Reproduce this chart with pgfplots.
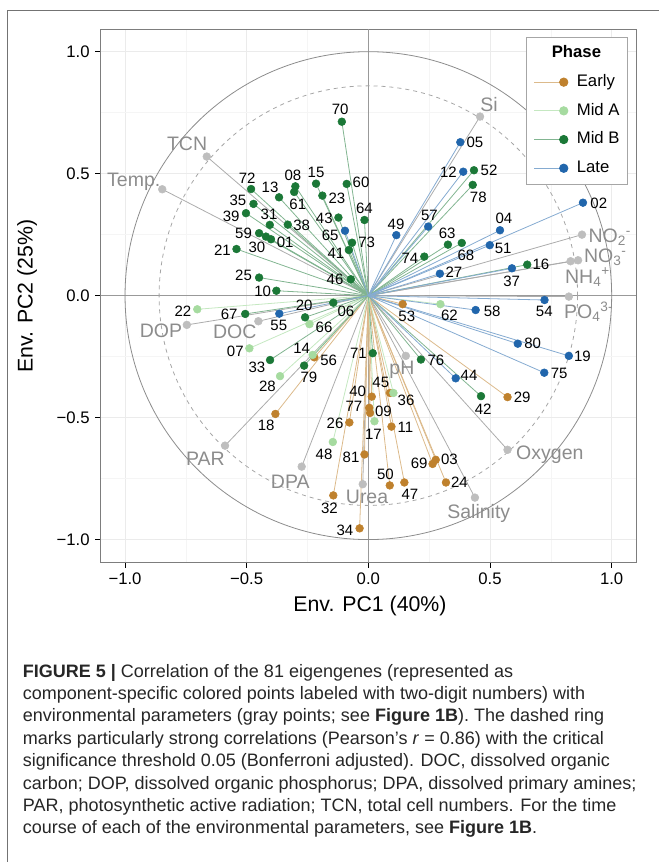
\documentclass[border=0pt]{standalone}
\usepackage{fontspec}
\setmainfont{Liberation Sans}
\usepackage{pgfplots}
\usepackage{pgfplotstable}
\pgfplotsset{compat=1.18}

\definecolor{early}{HTML}{BF812D}
\definecolor{midA}{HTML}{A6DBA0}
\definecolor{midB}{HTML}{1B7837}
\definecolor{late}{HTML}{2166AC}
\definecolor{envpt}{RGB}{190,190,190}
\definecolor{envtxt}{RGB}{140,140,140}
\definecolor{envln}{RGB}{172,172,172}
\definecolor{panelframe}{RGB}{125,125,125}

\newcommand\numfont{\fontsize{15}{18}\selectfont}
\newcommand\envfont{\fontsize{19.5}{22}\selectfont}
\newcommand\tickfont{\fontsize{16.7}{20}\selectfont}
\newcommand\titlefont{\fontsize{21.3}{25}\selectfont}
\newcommand\capfont{\fontsize{18}{22}\selectfont}

\pgfplotstableread{
x y lx ly lab
0.277 -0.673 0.333 -0.673 03
0.007 -0.481 0.062 -0.473 09
0.095 -0.537 0.152 -0.541 11
-0.382 -0.485 -0.420 -0.533 18
0.319 -0.766 0.374 -0.766 24
-0.078 -0.520 -0.137 -0.523 26
0.572 -0.416 0.632 -0.416 29
-0.144 -0.819 -0.160 -0.871 32
-0.036 -0.954 -0.096 -0.963 34
0.014 -0.414 -0.044 -0.391 40
0.089 -0.399 0.051 -0.357 45
0.148 -0.766 0.171 -0.814 47
0.088 -0.778 0.070 -0.731 50
0.141 -0.035 0.158 -0.086 53
-0.222 -0.253 -0.163 -0.264 56
0.264 -0.690 0.209 -0.687 69
0.004 -0.460 -0.059 -0.455 77
-0.016 -0.651 -0.071 -0.664 81
}\tabEarly

\pgfplotstableread{
x y lx ly lab
-0.489 -0.216 -0.547 -0.230 07
-0.229 -0.243 -0.274 -0.216 14
0.025 -0.515 0.021 -0.567 17
-0.703 -0.056 -0.762 -0.063 22
-0.363 -0.330 -0.415 -0.373 28
0.103 -0.399 0.155 -0.430 36
-0.146 -0.600 -0.182 -0.650 48
0.296 -0.035 0.333 -0.079 62
-0.242 -0.117 -0.182 -0.131 66
}\tabMidA

\pgfplotstableread{
x y lx ly lab
-0.400 0.231 -0.342 0.219 01
-0.144 -0.029 -0.092 -0.063 06
-0.300 0.448 -0.310 0.493 08
-0.378 0.020 -0.434 0.016 10
-0.367 0.403 -0.404 0.443 13
-0.215 0.459 -0.215 0.504 15
0.653 0.127 0.709 0.127 16
-0.260 -0.089 -0.264 -0.038 20
-0.542 0.191 -0.600 0.187 21
-0.189 0.410 -0.129 0.398 23
-0.449 0.074 -0.513 0.082 25
-0.421 0.242 -0.458 0.197 30
-0.405 0.290 -0.408 0.332 31
-0.404 -0.264 -0.458 -0.293 33
-0.472 0.376 -0.536 0.392 35
-0.331 0.291 -0.274 0.290 38
-0.503 0.338 -0.564 0.327 39
-0.080 0.187 -0.133 0.174 41
0.463 -0.412 0.472 -0.464 42
-0.123 0.320 -0.181 0.318 43
-0.072 0.067 -0.137 0.067 46
0.434 0.514 0.496 0.515 52
-0.449 0.256 -0.513 0.256 59
-0.089 0.458 -0.030 0.466 60
-0.305 0.425 -0.290 0.375 61
0.327 0.209 0.324 0.256 63
-0.016 0.310 -0.016 0.359 64
-0.506 -0.075 -0.572 -0.078 67
0.384 0.216 0.401 0.167 68
-0.109 0.713 -0.116 0.765 70
0.018 -0.236 -0.041 -0.236 71
-0.482 0.437 -0.498 0.481 72
-0.067 0.217 -0.007 0.217 73
0.230 0.160 0.171 0.153 74
0.216 -0.262 0.278 -0.266 76
0.429 0.454 0.452 0.403 78
-0.264 -0.287 -0.244 -0.334 79
}\tabMidB

\pgfplotstableread{
x y lx ly lab
0.882 0.381 0.947 0.379 02
0.541 0.268 0.557 0.317 04
0.378 0.629 0.438 0.627 05
0.390 0.508 0.329 0.506 12
0.824 -0.247 0.880 -0.247 19
0.294 0.090 0.352 0.094 27
0.590 0.112 0.589 0.060 37
0.359 -0.339 0.414 -0.325 44
0.115 0.248 0.114 0.294 49
0.499 0.207 0.554 0.194 51
0.724 -0.018 0.723 -0.066 54
-0.366 -0.074 -0.368 -0.123 55
0.246 0.283 0.251 0.328 57
0.441 -0.059 0.509 -0.063 58
-0.096 0.266 -0.157 0.246 65
0.723 -0.316 0.784 -0.318 75
0.614 -0.197 0.675 -0.195 80
}\tabLate

\pgfplotstableread{
x y
0.459 0.734
-0.664 0.570
-0.847 0.436
0.878 0.250
0.862 0.145
0.831 0.141
0.824 -0.004
-0.746 -0.120
-0.452 -0.105
-0.589 -0.615
-0.274 -0.701
-0.023 -0.773
0.154 -0.247
0.572 -0.632
0.438 -0.828
}\tabEnv

\pgfplotsset{
  seg/.style={forget plot, line width=0.8pt, quiver={u=\thisrow{x}, v=\thisrow{y}}},
  dots/.style={forget plot, only marks, color=#1, mark=*, mark size=3.9pt, mark options={solid, draw=#1, fill=#1, line width=0.5pt}},
  labs/.style={forget plot, only marks, mark=*, mark size=0pt, mark options={draw=none, fill=none},
    nodes near coords, point meta=explicit symbolic,
    every node near coord/.append style={anchor=center, font=\numfont, text=black, inner sep=0pt}},
}

\begin{document}
\begin{tikzpicture}
\path[use as bounding box] (0pt,0pt) rectangle (659pt,-862pt);
\draw[black!55, line width=0.8pt] (7.7pt,-862pt) -- (7.7pt,-10.3pt) -- (659pt,-10.3pt);
\begin{axis}[
  at={(100.7pt,-562pt)}, anchor=south west,
  scale only axis, width=535.3pt, height=533pt,
  xmin=-1.1, xmax=1.1, ymin=-1.092, ymax=1.093,
  xtick={-1,-0.5,0,0.5,1}, ytick={-1,-0.5,0,0.5,1},
  xticklabels={−1.0,−0.5,0.0,0.5,1.0}, yticklabels={−1.0,−0.5,0.0,0.5,1.0},
  minor xtick={-0.75,-0.25,0.25,0.75}, minor ytick={-0.75,-0.25,0.25,0.75},
  grid=both,
  major grid style={black!8, line width=0.6pt},
  minor grid style={black!4, line width=0.5pt},
  tick align=outside, major tick length=5.5pt, minor tick length=0pt,
  xtick pos=left, ytick pos=left,
  tick style={black, line width=0.8pt},
  axis line style={panelframe, line width=0.9pt},
  ticklabel style={font=\tickfont, text=black},
  yticklabel style={xshift=-2pt},
  xticklabel style={yshift=-1.5pt},
  xlabel={Env. PC1 (40\%)}, ylabel={Env. PC2 (25\%)},
  xlabel style={font=\titlefont, at={(axis description cs:0.503,-0.0826)}, anchor=center},
  ylabel style={font=\titlefont, at={(axis description cs:-0.1377,0.499)}, anchor=center, rotate=0},
  legend style={at={(0.9838,0.9844)}, anchor=north east, draw=black!35, line width=0.8pt, fill=white,
    font=\fontsize{16.7}{20}\selectfont, inner xsep=7.4pt, inner ysep=8pt, row sep=13.2pt,
    column sep=8.5pt, nodes={inner sep=0pt, text height=12pt, text depth=3.5pt}},
  legend cell align=left,
]
\draw[black!40, line width=0.9pt] (axis cs:-1.1,0) -- (axis cs:1.1,0);
\draw[black!40, line width=0.9pt] (axis cs:0,-1.092) -- (axis cs:0,1.093);
\draw[black!45, line width=0.8pt] (axis cs:0,0) ellipse [x radius=1, y radius=1];
\draw[black!35, line width=0.8pt, dash pattern=on 4pt off 4pt] (axis cs:0,0) ellipse [x radius=0.86, y radius=0.86];

\addplot[seg, envln] table[x expr=0, y expr=0] {\tabEnv};
\addplot[seg, early!55!white] table[x expr=0, y expr=0] {\tabEarly};
\addplot[seg, midA!65!white] table[x expr=0, y expr=0] {\tabMidA};
\addplot[seg, midB!55!white] table[x expr=0, y expr=0] {\tabMidB};
\addplot[seg, late!55!white] table[x expr=0, y expr=0] {\tabLate};

\addplot[dots=envpt] table[x=x, y=y] {\tabEnv};
\addplot[dots=early] table[x=x, y=y] {\tabEarly};
\addplot[dots=midA] table[x=x, y=y] {\tabMidA};
\addplot[dots=midB] table[x=x, y=y] {\tabMidB};
\addplot[dots=late] table[x=x, y=y] {\tabLate};

\addplot[labs] table[x=lx, y=ly, meta=lab] {\tabEarly};
\addplot[labs] table[x=lx, y=ly, meta=lab] {\tabMidA};
\addplot[labs] table[x=lx, y=ly, meta=lab] {\tabMidB};
\addplot[labs] table[x=lx, y=ly, meta=lab] {\tabLate};

\addplot[forget plot, only marks, mark=*, mark size=0pt, mark options={draw=none, fill=none},
  nodes near coords, point meta=explicit symbolic,
  every node near coord/.append style={anchor=base west, font=\envfont, text=envtxt, inner sep=0pt}]
  coordinates {
  (0.460,0.754) [Si]
  (-0.828,0.593) [TCN]
  (-1.074,0.447) [Temp.]
  (0.904,0.217) [NO\textsubscript{2}\textsuperscript{-}]
  (0.886,0.135) [NO\textsubscript{3}\textsuperscript{-}]
  (0.808,0.051) [NH\textsubscript{4}\textsuperscript{+}]
  (0.804,-0.095) [PO\textsubscript{4}\textsuperscript{3-}]
  (-0.940,-0.170) [DOP]
  (-0.639,-0.175) [DOC]
  (-0.750,-0.697) [PAR]
  (-0.401,-0.789) [DPA]
  (-0.093,-0.854) [Urea]
  (0.086,-0.322) [pH]
  (0.607,-0.673) [Oxygen]
  (0.324,-0.914) [Salinity]
  };

\addlegendimage{empty legend}
\addlegendentry{\hspace*{-25pt}\textbf{Phase}}
\addlegendimage{legend image code/.code={\draw[early!55!white,line width=0.8pt] (0pt,0pt)--(29.3pt,0pt); \fill[early] (29.3pt,0pt) circle (4.2pt);}}
\addlegendentry{Early}
\addlegendimage{legend image code/.code={\draw[midA!65!white,line width=0.8pt] (0pt,0pt)--(29.3pt,0pt); \fill[midA] (29.3pt,0pt) circle (4.2pt);}}
\addlegendentry{Mid A}
\addlegendimage{legend image code/.code={\draw[midB!55!white,line width=0.8pt] (0pt,0pt)--(29.3pt,0pt); \fill[midB] (29.3pt,0pt) circle (4.2pt);}}
\addlegendentry{Mid B}
\addlegendimage{legend image code/.code={\draw[late!55!white,line width=0.8pt] (0pt,0pt)--(29.3pt,0pt); \fill[late] (29.3pt,0pt) circle (4.2pt);}}
\addlegendentry{Late}
\end{axis}

\begin{scope}[every node/.style={anchor=base west, font=\capfont, text=black!85, inner sep=0pt}]
\node at (22.7pt,-677pt) {\textbf{FIGURE 5 |} Correlation of the 81 eigengenes (represented as};
\node at (22.7pt,-699.4pt) {component-specific colored points labeled with two-digit numbers) with};
\node at (22.7pt,-721.8pt) {environmental parameters (gray points; see \textbf{Figure 1B}). The dashed ring};
\node at (22.7pt,-744.2pt) {marks particularly strong correlations (Pearson’s \textit{r} = 0.86) with the critical};
\node at (22.7pt,-766.6pt) {significance threshold 0.05 (Bonferroni adjusted). DOC, dissolved organic};
\node at (22.7pt,-789pt) {carbon; DOP, dissolved organic phosphorus; DPA, dissolved primary amines;};
\node at (22.7pt,-811.4pt) {PAR, photosynthetic active radiation; TCN, total cell numbers. For the time};
\node at (22.7pt,-833.8pt) {course of each of the environmental parameters, see \textbf{Figure 1B}.};
\end{scope}
\end{tikzpicture}
\end{document}
